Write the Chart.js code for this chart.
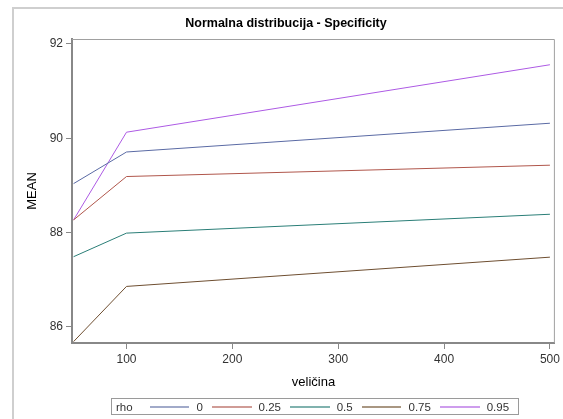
<html>
    <head>
        <meta charset="UTF-8">
        <script src="https://cdn.jsdelivr.net/npm/chart.js@4/dist/chart.umd.min.js"></script>
        <style>
            body { margin: 0; background: #fff; font-family: "Liberation Sans", Arial, sans-serif; }
            .frame { position: absolute; left: 12px; top: 7px; width: 600px; height: 450px;
                     border-left: 2px solid #cfcfcf; border-top: 2px solid #cfcfcf; }
            .chart-box { position: absolute; left: 0; top: 0; width: 563px; height: 419px; }
            .legend { position: absolute; left: 111px; top: 398px; height: 17px; width: 408px;
                      border: 1px solid #9a9a9a; display: flex; align-items: center;
                      font-size: 11.5px; color: #333; padding-left: 4px; box-sizing: border-box; }
            .legend .ttl { margin-right: 17px; }
            .legend .ln { width: 42px; height: 0; border-top: 2px solid; opacity: 0.5; margin-right: 7px; }
            .legend .lb { margin-right: 9px; }
        </style>
        <script>
            // x = veličina, one series per rho
            var velicina = [50, 100, 500];
            var rhoLabels = ['0', '0.25', '0.5', '0.75', '0.95'];
            var mean0    = [89.04, 89.71, 90.32];
            var mean025  = [88.27, 89.19, 89.43];
            var mean05   = [87.49, 87.99, 88.39];
            var mean075  = [85.69, 86.86, 87.48];
            var mean095  = [88.27, 90.13, 91.56];
            var xTicks = [100, 200, 300, 400, 500];
            var yTicks = [86, 88, 90, 92];

            var colors = ['#445694', '#a23a2e', '#01665e', '#543005', '#9d3cdb'];
            var lineColors = ['#5a6aa4', '#b0564b', '#2a7e77', '#6e4e30', '#ad5ae4'];
            var allMeans = [mean0, mean025, mean05, mean075, mean095];

            function pts(arr){
                var out = [];
                for(var i = 0; i < velicina.length; i++){
                    out.push({x: velicina[i], y: arr[i]});
                }
                return out;
            }

            var frameLines = {
                id: 'frameLines',
                afterDatasetsDraw: function(chart){
                    var a = chart.chartArea, ctx = chart.ctx;
                    ctx.save();
                    ctx.strokeStyle = '#a0a0a0';
                    ctx.lineWidth = 1;
                    ctx.beginPath();
                    ctx.moveTo(a.left, a.top + 0.5);
                    ctx.lineTo(a.right - 0.5, a.top + 0.5);
                    ctx.lineTo(a.right - 0.5, a.bottom);
                    ctx.stroke();
                    ctx.restore();
                }
            };

            window.onload = function(){
                var sets = [];
                for(var i = 0; i < rhoLabels.length; i++){
                    sets.push({
                        label: rhoLabels[i],
                        data: pts(allMeans[i]),
                        borderColor: lineColors[i],
                        backgroundColor: lineColors[i],
                        borderWidth: 1,
                        pointRadius: 0,
                        tension: 0
                    });
                }

                var ctx = document.getElementById('meanChart').getContext('2d');
                new Chart(ctx, {
                    type: 'line',
                    data: { datasets: sets },
                    plugins: [frameLines],
                    options: {
                        responsive: true,
                        maintainAspectRatio: false,
                        animation: false,
                        layout: { padding: { left: 16, right: 7, top: 0, bottom: 0 } },
                        plugins: {
                            legend: { display: false },
                            tooltip: { enabled: false },
                            title: {
                                display: true,
                                text: 'Normalna distribucija - Specificity',
                                color: '#000',
                                font: { family: 'Liberation Sans', size: 12.5, weight: 'bold' },
                                padding: { top: 16.5, bottom: 7.5 }
                            }
                        },
                        scales: {
                            x: {
                                type: 'linear',
                                min: 48.5,
                                max: 504.7,
                                afterFit: function(s){ s.height = 76; },
                                afterBuildTicks: function(s){ s.ticks = xTicks.map(function(v){ return {value: v}; }); },
                                grid: { drawOnChartArea: false, tickLength: 6, color: '#888' },
                                border: { color: '#888', width: 2 },
                                ticks: { color: '#333', padding: 3, font: { family: 'Liberation Sans', size: 12 } },
                                title: { display: true, text: 'veličina', color: '#000',
                                         font: { family: 'Liberation Sans', size: 13 }, padding: { top: 0, bottom: 29 } }
                            },
                            y: {
                                min: 85.66,
                                max: 92.106,
                                afterFit: function(s){ s.width = 56; },
                                afterBuildTicks: function(s){ s.ticks = yTicks.map(function(v){ return {value: v}; }); },
                                grid: { drawOnChartArea: false, tickLength: 6, color: '#888' },
                                border: { color: '#888', width: 2 },
                                ticks: { color: '#333', padding: 3, font: { family: 'Liberation Sans', size: 12 } },
                                title: { display: true, text: 'MEAN', color: '#000',
                                         font: { family: 'Liberation Sans', size: 13 }, padding: { top: 8.5, bottom: 0 } }
                            }
                        }
                    }
                });

                // legend under the plot
                var lg = document.getElementById('legend');
                var h = '<span class="ttl">rho</span>';
                for(var k = 0; k < rhoLabels.length; k++){
                    h += '<span class="ln" style="border-color:' + colors[k] + '"></span><span class="lb">' + rhoLabels[k] + '</span>';
                }
                lg.innerHTML = h;
            };
        </script>
    </head>
    <body>
        <div class="frame"></div>
        <div class="chart-box"><canvas id="meanChart"></canvas></div>
        <div class="legend" id="legend"></div>
    </body>
</html>
